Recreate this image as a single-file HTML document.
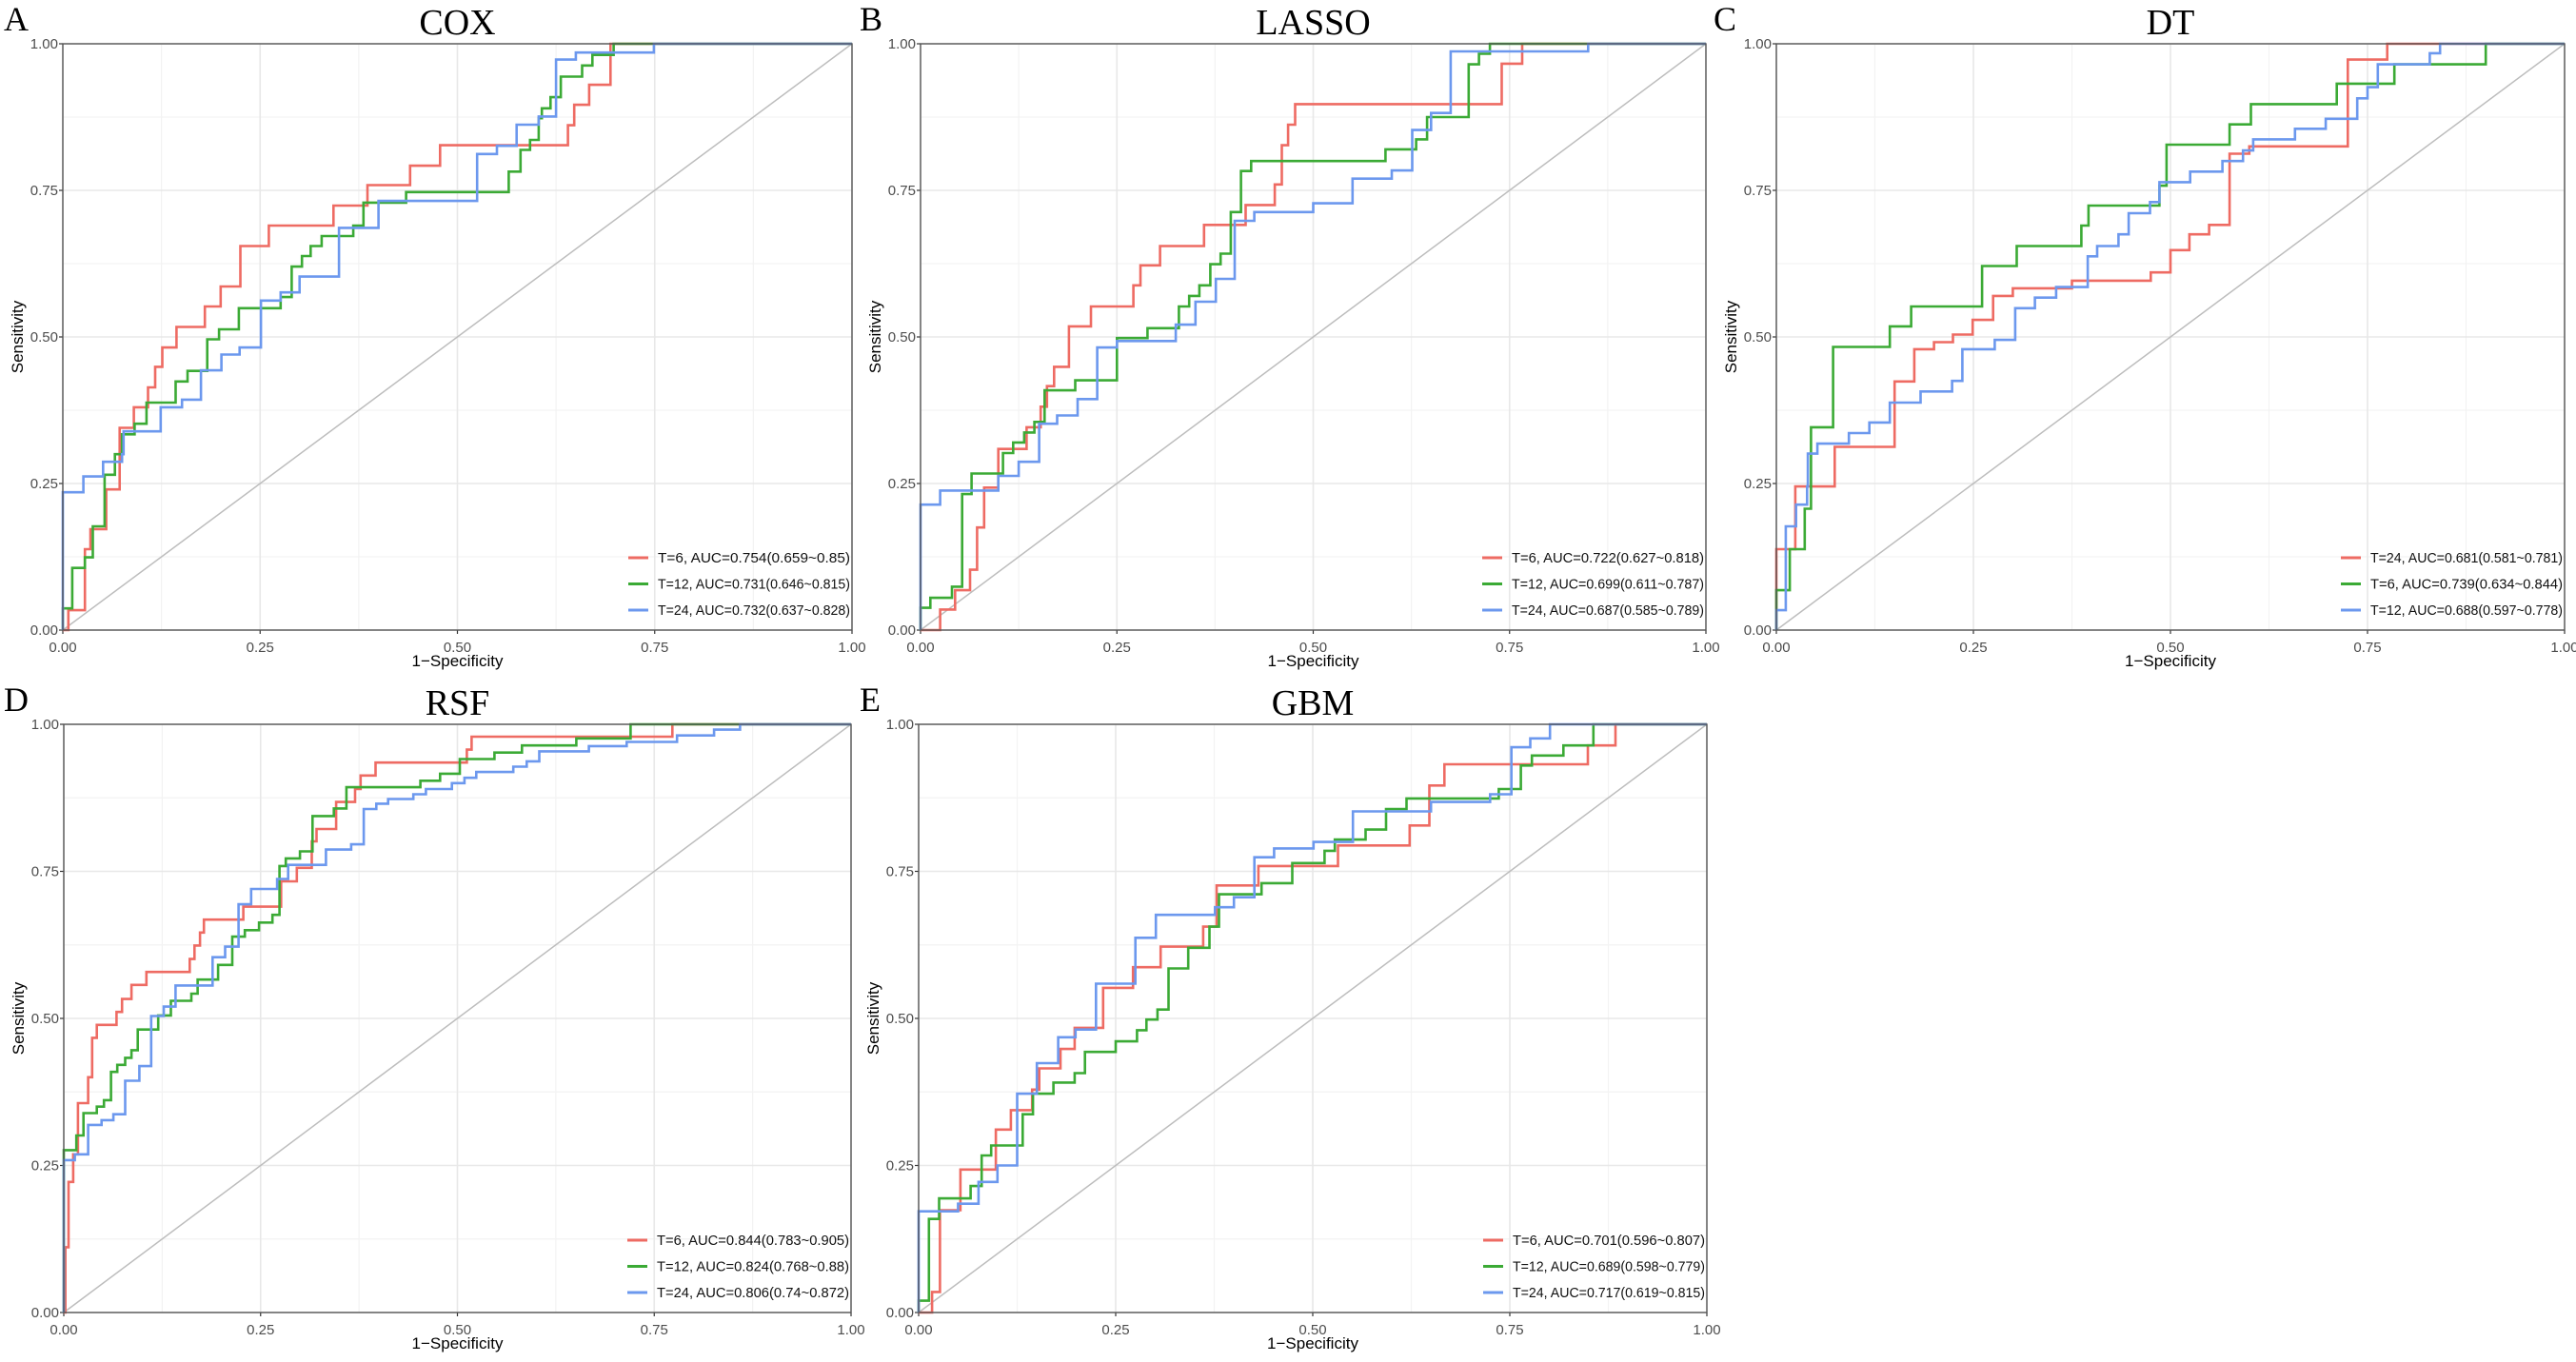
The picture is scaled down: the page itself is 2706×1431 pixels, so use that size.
<!DOCTYPE html>
<html><head><meta charset="utf-8"><style>
html,body{margin:0;padding:0;background:#fff;}
svg{display:block;}
</style></head><body>
<svg id="chart" width="2706" height="1431" viewBox="0 0 2706 1431" xmlns="http://www.w3.org/2000/svg"></svg>
<script>
// ---- data (step curves: x of each vertical jump, tpr level after jump) ----
const panelTitles = ["COX","LASSO","DT","RSF","GBM"];
const panelLetters = ["A","B","C","D","E"];
const tickLabels = ["0.00","0.25","0.50","0.75","1.00"];
const tickValues = [0,0.25,0.5,0.75,1];

const legendA = ["T=6, AUC=0.754(0.659~0.85)","T=12, AUC=0.731(0.646~0.815)","T=24, AUC=0.732(0.637~0.828)"];
const legendB = ["T=6, AUC=0.722(0.627~0.818)","T=12, AUC=0.699(0.611~0.787)","T=24, AUC=0.687(0.585~0.789)"];
const legendC = ["T=24, AUC=0.681(0.581~0.781)","T=6, AUC=0.739(0.634~0.844)","T=12, AUC=0.688(0.597~0.778)"];
const legendD = ["T=6, AUC=0.844(0.783~0.905)","T=12, AUC=0.824(0.768~0.88)","T=24, AUC=0.806(0.74~0.872)"];
const legendE = ["T=6, AUC=0.701(0.596~0.807)","T=12, AUC=0.689(0.598~0.779)","T=24, AUC=0.717(0.619~0.815)"];

const aRedX=[0.007,0.028,0.035,0.055,0.072,0.09,0.108,0.117,0.126,0.144,0.18,0.2,0.225,0.261,0.343,0.386,0.44,0.478,0.64,0.648,0.667,0.694];
const aRedY=[0.034,0.138,0.172,0.24,0.345,0.38,0.414,0.449,0.482,0.517,0.552,0.586,0.655,0.69,0.724,0.759,0.792,0.827,0.861,0.896,0.93,1.0];
const aGreenX=[0,0.012,0.028,0.038,0.053,0.066,0.075,0.091,0.106,0.143,0.158,0.183,0.198,0.223,0.276,0.29,0.303,0.314,0.328,0.368,0.381,0.435,0.565,0.58,0.592,0.603,0.607,0.618,0.631,0.658,0.671,0.698];
const aGreenY=[0.037,0.106,0.124,0.177,0.265,0.3,0.334,0.352,0.388,0.424,0.442,0.496,0.513,0.549,0.568,0.62,0.638,0.655,0.672,0.69,0.729,0.747,0.782,0.819,0.836,0.873,0.89,0.909,0.944,0.963,0.981,1.0];
const aBlueX=[0,0.026,0.051,0.075,0.077,0.124,0.151,0.175,0.201,0.224,0.251,0.276,0.3,0.35,0.4,0.525,0.55,0.575,0.603,0.625,0.65,0.749];
const aBlueY=[0.235,0.262,0.287,0.3,0.339,0.38,0.393,0.443,0.47,0.482,0.562,0.576,0.603,0.686,0.732,0.812,0.826,0.862,0.876,0.973,0.985,1.0];

const bRedX=[0.025,0.044,0.063,0.072,0.081,0.099,0.135,0.153,0.161,0.17,0.189,0.217,0.271,0.28,0.305,0.361,0.414,0.451,0.46,0.468,0.477,0.74,0.766];
const bRedY=[0.035,0.068,0.103,0.175,0.243,0.309,0.346,0.381,0.416,0.449,0.518,0.552,0.588,0.622,0.655,0.691,0.725,0.76,0.827,0.862,0.897,0.966,1.0];
const bGreenX=[0,0.0125,0.04,0.053,0.065,0.105,0.118,0.132,0.145,0.158,0.197,0.25,0.289,0.329,0.342,0.355,0.369,0.382,0.395,0.408,0.421,0.592,0.631,0.645,0.698,0.711,0.725];
const bGreenY=[0.038,0.055,0.074,0.232,0.267,0.302,0.32,0.337,0.355,0.409,0.426,0.498,0.515,0.552,0.57,0.588,0.624,0.642,0.713,0.783,0.8,0.82,0.837,0.875,0.965,0.983,1.0];
const bBlueX=[0,0.025,0.099,0.125,0.151,0.174,0.2,0.225,0.25,0.325,0.35,0.376,0.4,0.425,0.5,0.55,0.6,0.626,0.65,0.675,0.85];
const bBlueY=[0.214,0.238,0.263,0.287,0.352,0.366,0.394,0.482,0.493,0.521,0.56,0.599,0.698,0.713,0.728,0.77,0.784,0.853,0.882,0.987,1.0];

const cRedX=[0,0.024,0.074,0.15,0.175,0.2,0.224,0.249,0.275,0.3,0.375,0.475,0.5,0.524,0.549,0.575,0.6,0.725,0.775];
const cRedY=[0.138,0.245,0.3125,0.424,0.479,0.491,0.504,0.529,0.57,0.583,0.596,0.61,0.648,0.675,0.691,0.8125,0.825,0.973,1.0];
const cGreenX=[0,0.017,0.036,0.044,0.072,0.144,0.171,0.261,0.305,0.387,0.396,0.486,0.495,0.575,0.602,0.711,0.784,0.9];
const cGreenY=[0.068,0.138,0.207,0.346,0.483,0.518,0.552,0.621,0.655,0.69,0.724,0.758,0.828,0.8625,0.897,0.932,0.965,1.0];
const cBlueX=[0,0.012,0.025,0.039,0.040,0.052,0.092,0.118,0.144,0.183,0.223,0.236,0.277,0.303,0.328,0.355,0.395,0.407,0.434,0.447,0.474,0.486,0.525,0.566,0.592,0.605,0.658,0.697,0.737,0.75,0.763,0.829,0.842];
const cBlueY=[0.034,0.177,0.214,0.245,0.301,0.318,0.336,0.354,0.388,0.407,0.425,0.479,0.495,0.549,0.567,0.585,0.6375,0.655,0.675,0.711,0.73,0.764,0.782,0.8,0.818,0.837,0.855,0.872,0.907,0.926,0.965,0.984,1.0];

const dRedX=[0.002,0.006,0.012,0.018,0.031,0.036,0.042,0.067,0.074,0.086,0.105,0.16,0.166,0.173,0.178,0.228,0.276,0.296,0.315,0.321,0.346,0.37,0.377,0.396,0.512,0.518,0.773];
const dRedY=[0.111,0.222,0.269,0.356,0.4,0.467,0.489,0.511,0.533,0.557,0.579,0.601,0.624,0.646,0.668,0.69,0.733,0.756,0.801,0.822,0.868,0.89,0.913,0.935,0.957,0.979,1.0];
const dGreenX=[0,0.016,0.025,0.042,0.051,0.06,0.068,0.078,0.086,0.094,0.12,0.136,0.162,0.17,0.196,0.214,0.23,0.248,0.265,0.274,0.282,0.3,0.316,0.343,0.359,0.453,0.478,0.503,0.547,0.582,0.651,0.72];
const dGreenY=[0.276,0.301,0.339,0.35,0.361,0.409,0.421,0.433,0.446,0.481,0.505,0.53,0.542,0.566,0.591,0.639,0.65,0.663,0.676,0.759,0.772,0.784,0.844,0.857,0.893,0.904,0.916,0.941,0.952,0.964,0.976,1.0];
const dBlueX=[0,0.014,0.031,0.048,0.063,0.078,0.096,0.111,0.127,0.142,0.189,0.205,0.222,0.238,0.271,0.285,0.333,0.365,0.381,0.397,0.412,0.444,0.46,0.493,0.509,0.524,0.571,0.588,0.604,0.667,0.715,0.779,0.826,0.859];
const dBlueY=[0.259,0.269,0.319,0.327,0.337,0.394,0.419,0.504,0.52,0.556,0.604,0.622,0.694,0.72,0.737,0.761,0.787,0.796,0.856,0.865,0.873,0.881,0.89,0.9,0.909,0.919,0.928,0.937,0.954,0.963,0.97,0.981,0.991,1.0];

const eRedX=[0.017,0.027,0.053,0.098,0.117,0.144,0.153,0.18,0.198,0.234,0.272,0.307,0.361,0.378,0.431,0.532,0.623,0.648,0.667,0.849,0.884];
const eRedY=[0.035,0.174,0.243,0.311,0.344,0.379,0.415,0.448,0.484,0.552,0.587,0.622,0.656,0.726,0.759,0.794,0.828,0.896,0.932,0.964,1.0];
const eGreenX=[0,0.013,0.026,0.066,0.08,0.092,0.132,0.145,0.171,0.198,0.211,0.25,0.277,0.289,0.303,0.317,0.342,0.369,0.381,0.435,0.474,0.515,0.528,0.567,0.593,0.619,0.736,0.764,0.778,0.818,0.856];
const eGreenY=[0.02,0.159,0.194,0.215,0.267,0.284,0.337,0.372,0.391,0.407,0.443,0.461,0.48,0.498,0.515,0.585,0.62,0.656,0.711,0.73,0.764,0.785,0.804,0.821,0.856,0.874,0.89,0.93,0.947,0.964,1.0];
const eBlueX=[0,0.05,0.076,0.1,0.125,0.15,0.177,0.199,0.225,0.275,0.301,0.376,0.4,0.426,0.451,0.501,0.551,0.65,0.725,0.752,0.776,0.801];
const eBlueY=[0.172,0.185,0.222,0.25,0.372,0.424,0.468,0.481,0.559,0.637,0.676,0.689,0.706,0.774,0.789,0.8,0.852,0.868,0.881,0.961,0.976,1.0];

// ---- rendering ----
const NS="http://www.w3.org/2000/svg";
const svg=document.getElementById('chart');
const RED="#EE6B63", GREEN="#3BAA35", BLUE="#6C98EE";
function mk(tag,attrs,parent){const e=document.createElementNS(NS,tag);for(const k in attrs)e.setAttribute(k,attrs[k]);(parent||svg).appendChild(e);return e;}

const panels=[
 {x0:66,x1:895,y1:46,y0:662,letterX:4,legend:legendA,series:[[aRedX,aRedY,RED],[aGreenX,aGreenY,GREEN],[aBlueX,aBlueY,BLUE]],nm:"cox"},
 {x0:967,x1:1792,y1:46,y0:662,letterX:903,legend:legendB,series:[[bRedX,bRedY,RED],[bGreenX,bGreenY,GREEN],[bBlueX,bBlueY,BLUE]],nm:"lasso"},
 {x0:1866,x1:2694,y1:46,y0:662,letterX:1800,legend:legendC,series:[[cRedX,cRedY,RED],[cGreenX,cGreenY,GREEN],[cBlueX,cBlueY,BLUE]],nm:"dt"},
 {x0:67,x1:894,y1:761,y0:1379,letterX:4,legend:legendD,series:[[dRedX,dRedY,RED],[dGreenX,dGreenY,GREEN],[dBlueX,dBlueY,BLUE]],nm:"rsf"},
 {x0:965,x1:1793,y1:761,y0:1379,letterX:903,legend:legendE,series:[[eRedX,eRedY,RED],[eGreenX,eGreenY,GREEN],[eBlueX,eBlueY,BLUE]],nm:"gbm"}
];

panels.forEach((p,pi)=>{
  const g=mk('g',{});
  
  
  const sx=v=>p.x0+v*(p.x1-p.x0);
  const sy=v=>p.y0-v*(p.y0-p.y1);
  // minor grid
  [0.125,0.375,0.625,0.875].forEach(v=>{
    const a=mk('line',{x1:sx(v),x2:sx(v),y1:p.y1,y2:p.y0,stroke:"#f3f3f3","stroke-width":1.2},g);
    
    
    const b=mk('line',{x1:p.x0,x2:p.x1,y1:sy(v),y2:sy(v),stroke:"#f3f3f3","stroke-width":1.2},g);
    
    
  });
  tickValues.forEach((v,i)=>{
    const a=mk('line',{x1:sx(v),x2:sx(v),y1:p.y1,y2:p.y0,stroke:"#e8e8e8","stroke-width":1.6},g);
    
    
    const b=mk('line',{x1:p.x0,x2:p.x1,y1:sy(v),y2:sy(v),stroke:"#e8e8e8","stroke-width":1.6},g);
    
    
    const tx=mk('text',{x:sx(v),y:p.y0+23,"text-anchor":"middle","font-size":15,fill:"#4d4d4d","font-family":"Liberation Sans, sans-serif"},g);
    tx.textContent=tickLabels[i];
    
    
    const ty=mk('text',{x:p.x0-5,y:sy(v)+5,"text-anchor":"end","font-size":15,fill:"#4d4d4d","font-family":"Liberation Sans, sans-serif"},g);
    ty.textContent=tickLabels[i];
    
    
    const t1=mk('line',{x1:sx(v),x2:sx(v),y1:p.y0,y2:p.y0+4,stroke:"#333","stroke-width":1.2},g);
    
    
    const t2=mk('line',{x1:p.x0-4,x2:p.x0,y1:sy(v),y2:sy(v),stroke:"#333","stroke-width":1.2},g);
    
    
  });
  const diag=mk('line',{x1:sx(0),y1:sy(0),x2:sx(1),y2:sy(1),stroke:"#bdbdbd","stroke-width":1.5},g);
  
  
  p.series.forEach((s,si)=>{
    const [xs,ys,col]=s;
    let d="M"+sx(0)+","+sy(0);
    for(let i=0;i<xs.length;i++){d+=" H"+sx(xs[i]).toFixed(1)+" V"+sy(ys[i]).toFixed(1);}
    d+=" H"+sx(1);
    const path=mk('path',{d:d,fill:"none",stroke:col,"stroke-width":2.6},g);
    
    
    const ly=p.y0-76+si*27.5;
    const ll=mk('line',{x1:p.x1-235,x2:p.x1-214,y1:ly,y2:ly,stroke:col,"stroke-width":3},g);
    
    
    const lt=mk('text',{x:p.x1-204,y:ly+5,"font-size":14.5,fill:"#111","font-family":"Liberation Sans, sans-serif",textLength:202,lengthAdjust:"spacingAndGlyphs"},g);
    lt.textContent=p.legend[si];
    
    
  });
  const border=mk('rect',{x:p.x0,y:p.y1,width:p.x1-p.x0,height:p.y0-p.y1,fill:"none",stroke:"#555","stroke-width":1.4},g);
  
  
  const title=mk('text',{x:(p.x0+p.x1)/2,y:p.y1-10,"text-anchor":"middle","font-size":38,fill:"#000","font-family":"Liberation Serif, serif"},g);
  title.textContent=panelTitles[pi];
  
  
  const letter=mk('text',{x:p.letterX,y:p.y1-14,"font-size":36,fill:"#000","font-family":"Liberation Serif, serif"},g);
  letter.textContent=panelLetters[pi];
  
  
  const xt=mk('text',{x:(p.x0+p.x1)/2,y:p.y0+38,"text-anchor":"middle","font-size":17,fill:"#000","font-family":"Liberation Sans, sans-serif"},g);
  xt.textContent="1\u2212Specificity";
  
  
  const cy=(p.y0+p.y1)/2;
  const yt=mk('text',{x:p.x0-42,y:cy,"text-anchor":"middle","font-size":17,fill:"#000","font-family":"Liberation Sans, sans-serif",transform:"rotate(-90 "+(p.x0-42)+" "+cy+")"},g);
  yt.textContent="Sensitivity";
  
  
});
</script>
</body></html>
